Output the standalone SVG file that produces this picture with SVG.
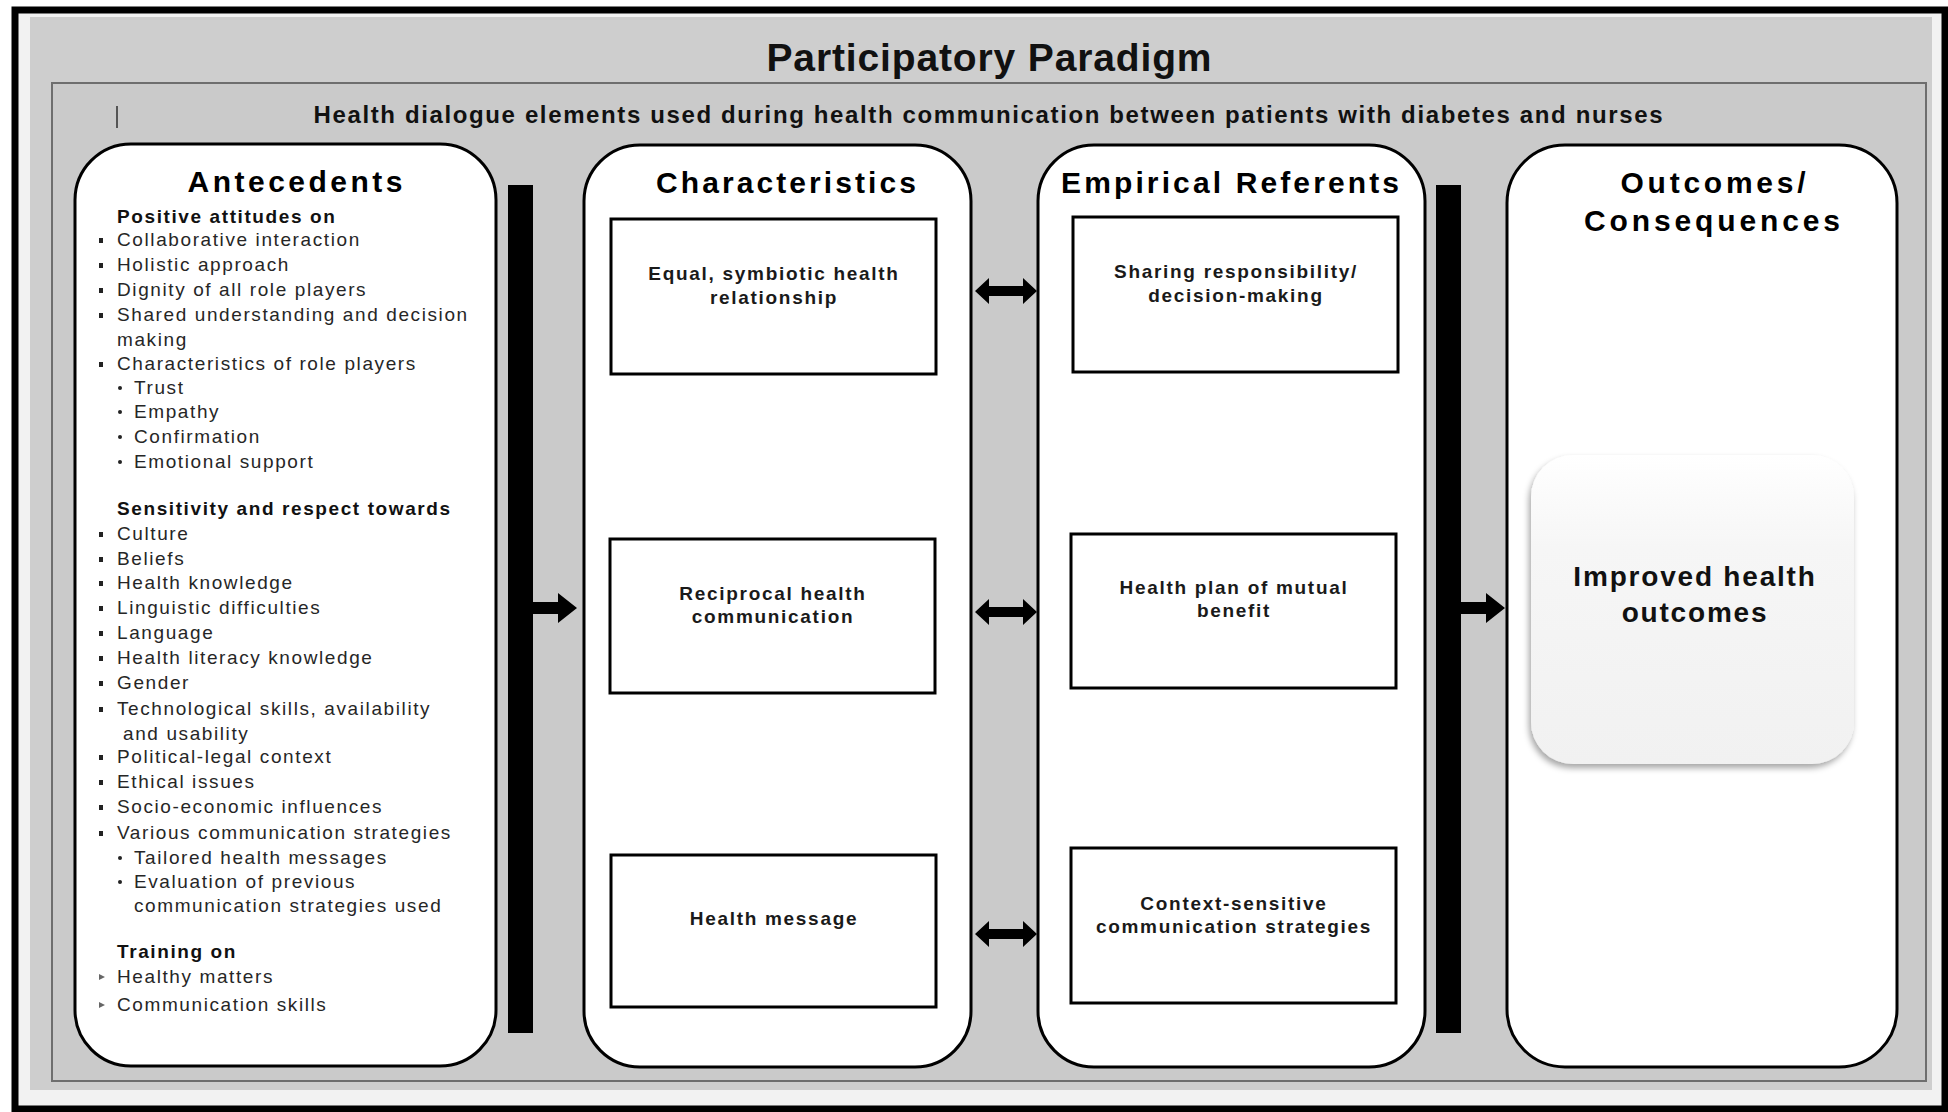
<svg xmlns="http://www.w3.org/2000/svg" width="1948" height="1112" viewBox="0 0 1948 1112">
<style>
.frame{fill:#f2f2f2;stroke:#000;stroke-width:7}
.outer{fill:#cecece}
.panel{fill:#cacaca;stroke:#6e6e6e;stroke-width:2}
.col{fill:#fff;stroke:#000;stroke-width:3}
.box{fill:#fff;stroke:#000;stroke-width:3}
.bar{fill:#000}
.arr{fill:#000}
.title{font-family:"Liberation Sans",Arial,sans-serif;font-weight:bold;font-size:39px;fill:#111;text-anchor:middle}
.sub{font-family:"Liberation Sans",Arial,sans-serif;font-weight:bold;font-size:24px;fill:#111;text-anchor:middle}
.h{font-family:"Liberation Sans",Arial,sans-serif;font-weight:bold;font-size:30px;fill:#000;text-anchor:middle}
.t{font-family:"Liberation Sans",Arial,sans-serif;font-size:19px;letter-spacing:1.6px;fill:#262626}
.tb{font-family:"Liberation Sans",Arial,sans-serif;font-size:19px;font-weight:bold;letter-spacing:1.6px;fill:#111}
.c{font-family:"Liberation Sans",Arial,sans-serif;font-size:19px;font-weight:bold;letter-spacing:1.7px;fill:#1a1a1a;text-anchor:middle}
.big{font-family:"Liberation Sans",Arial,sans-serif;font-size:28px;font-weight:bold;letter-spacing:1.8px;fill:#111;text-anchor:middle}
.bl{fill:#222}
.bl2{fill:#666}
</style>
<defs>
<linearGradient id="soft" x1="0" y1="0" x2="0" y2="1">
<stop offset="0" stop-color="#ffffff"/>
<stop offset="0.3" stop-color="#f6f6f6"/>
<stop offset="1" stop-color="#f1f1f1"/>
</linearGradient>
<filter id="sh" x="-10%" y="-10%" width="120%" height="125%">
<feDropShadow dx="-2" dy="4" stdDeviation="3" flood-color="#000" flood-opacity="0.35"/>
</filter>
</defs>

<g id="background">
<rect class="frame" x="15" y="10" width="1930" height="1099"/>
<rect class="outer" x="30" y="17" width="1902" height="1073"/>
<text class="title" x="989" y="71" textLength="445" lengthAdjust="spacing">Participatory Paradigm</text>
<rect class="panel" x="52" y="83" width="1874" height="998"/>
<line x1="117" y1="106" x2="117" y2="128" stroke="#555" stroke-width="2"/>
<text class="sub" x="988" y="123" textLength="1349" lengthAdjust="spacing">Health dialogue elements used during health communication between patients with diabetes and nurses</text>
</g>

<g id="antecedents">
<rect class="col" x="75" y="144" width="421" height="922" rx="56" ry="56"/>
<text class="h" x="295" y="192" textLength="215" lengthAdjust="spacing">Antecedents</text>
<text class="tb" x="117" y="223">Positive attitudes on</text>
<g class="bl">
<rect x="99" y="238" width="4" height="5"/>
<rect x="99" y="263" width="4" height="5"/>
<rect x="99" y="288" width="4" height="5"/>
<rect x="99" y="313" width="4" height="5"/>
<rect x="99" y="362" width="4" height="5"/>
<circle cx="120" cy="388" r="2"/>
<circle cx="120" cy="412" r="2"/>
<circle cx="120" cy="437" r="2"/>
<circle cx="120" cy="462" r="2"/>
<rect x="99" y="532" width="4" height="5"/>
<rect x="99" y="557" width="4" height="5"/>
<rect x="99" y="581" width="4" height="5"/>
<rect x="99" y="606" width="4" height="5"/>
<rect x="99" y="631" width="4" height="5"/>
<rect x="99" y="656" width="4" height="5"/>
<rect x="99" y="681" width="4" height="5"/>
<rect x="99" y="707" width="4" height="5"/>
<rect x="99" y="755" width="4" height="5"/>
<rect x="99" y="780" width="4" height="5"/>
<rect x="99" y="805" width="4" height="5"/>
<rect x="99" y="831" width="4" height="5"/>
<circle cx="120" cy="858" r="2"/>
<circle cx="120" cy="882" r="2"/>
</g>
<g class="bl2">
<polygon points="99,974 105,977 99,980"/>
<polygon points="99,1002 105,1005 99,1008"/>
</g>
<text class="t" x="117" y="246">Collaborative interaction</text>
<text class="t" x="117" y="271">Holistic approach</text>
<text class="t" x="117" y="296">Dignity of all role players</text>
<text class="t" x="117" y="321">Shared understanding and decision</text>
<text class="t" x="117" y="346">making</text>
<text class="t" x="117" y="370">Characteristics of role players</text>
<text class="t" x="134" y="394">Trust</text>
<text class="t" x="134" y="418">Empathy</text>
<text class="t" x="134" y="443">Confirmation</text>
<text class="t" x="134" y="468">Emotional support</text>
<text class="tb" x="117" y="515">Sensitivity and respect towards</text>
<text class="t" x="117" y="540">Culture</text>
<text class="t" x="117" y="565">Beliefs</text>
<text class="t" x="117" y="589">Health knowledge</text>
<text class="t" x="117" y="614">Linguistic difficulties</text>
<text class="t" x="117" y="639">Language</text>
<text class="t" x="117" y="664">Health literacy knowledge</text>
<text class="t" x="117" y="689">Gender</text>
<text class="t" x="117" y="715">Technological skills, availability</text>
<text class="t" x="123" y="740">and usability</text>
<text class="t" x="117" y="763">Political-legal context</text>
<text class="t" x="117" y="788">Ethical issues</text>
<text class="t" x="117" y="813">Socio-economic influences</text>
<text class="t" x="117" y="839">Various communication strategies</text>
<text class="t" x="134" y="864">Tailored health messages</text>
<text class="t" x="134" y="888">Evaluation of previous</text>
<text class="t" x="134" y="912">communication strategies used</text>
<text class="tb" x="117" y="958">Training on</text>
<text class="t" x="117" y="983">Healthy matters</text>
<text class="t" x="117" y="1011">Communication skills</text>
</g>

<g id="characteristics">
<rect class="col" x="584" y="145" width="387" height="922" rx="56" ry="56"/>
<text class="h" x="786" y="193" textLength="260" lengthAdjust="spacing">Characteristics</text>
</g>
<g id="char-equal">
<rect class="box" x="611" y="219" width="325" height="155"/>
<text class="c" x="774" y="280">Equal, symbiotic health</text>
<text class="c" x="774" y="304">relationship</text>
</g>
<g id="char-reciprocal">
<rect class="box" x="610" y="539" width="325" height="154"/>
<text class="c" x="773" y="600">Reciprocal health</text>
<text class="c" x="773" y="623">communication</text>
</g>
<g id="char-message">
<rect class="box" x="611" y="855" width="325" height="152"/>
<text class="c" x="774" y="925">Health message</text>
</g>

<g id="empirical">
<rect class="col" x="1038" y="145" width="387" height="922" rx="56" ry="56"/>
<text class="h" x="1230" y="193" textLength="338" lengthAdjust="spacing">Empirical Referents</text>
</g>
<g id="emp-sharing">
<rect class="box" x="1073" y="217" width="325" height="155"/>
<text class="c" x="1236" y="278">Sharing responsibility/</text>
<text class="c" x="1236" y="302">decision-making</text>
</g>
<g id="emp-plan">
<rect class="box" x="1071" y="534" width="325" height="154"/>
<text class="c" x="1234" y="594">Health plan of mutual</text>
<text class="c" x="1234" y="617">benefit</text>
</g>
<g id="emp-context">
<rect class="box" x="1071" y="848" width="325" height="155"/>
<text class="c" x="1234" y="910">Context-sensitive</text>
<text class="c" x="1234" y="933">communication strategies</text>
</g>

<g id="outcomes">
<rect class="col" x="1507" y="145" width="390" height="922" rx="58" ry="58"/>
<text class="h" x="1713" y="193" textLength="185" lengthAdjust="spacing">Outcomes/</text>
<text class="h" x="1712" y="231" textLength="256" lengthAdjust="spacing">Consequences</text>
</g>
<g id="improved">
<rect x="1531" y="455" width="323" height="309" rx="42" ry="42" fill="url(#soft)" filter="url(#sh)"/>
<text class="big" x="1695" y="586">Improved health</text>
<text class="big" x="1695" y="622">outcomes</text>
</g>

<g id="connectors">
<rect class="bar" x="508" y="185" width="25" height="848"/>
<rect class="bar" x="1436" y="185" width="25" height="848"/>
<polygon class="arr" points="533,602 558,602 558,593 577,608 558,623 558,614 533,614"/>
<polygon class="arr" points="1461,602 1486,602 1486,593 1505,608 1486,623 1486,614 1461,614"/>
<polygon class="arr" points="975,291 989,278 989,286 1023,286 1023,278 1037,291 1023,304 1023,296 989,296 989,304"/>
<polygon class="arr" points="975,612 989,599 989,607 1023,607 1023,599 1037,612 1023,625 1023,617 989,617 989,625"/>
<polygon class="arr" points="975,934 989,921 989,929 1023,929 1023,921 1037,934 1023,947 1023,939 989,939 989,947"/>
</g>
</svg>
